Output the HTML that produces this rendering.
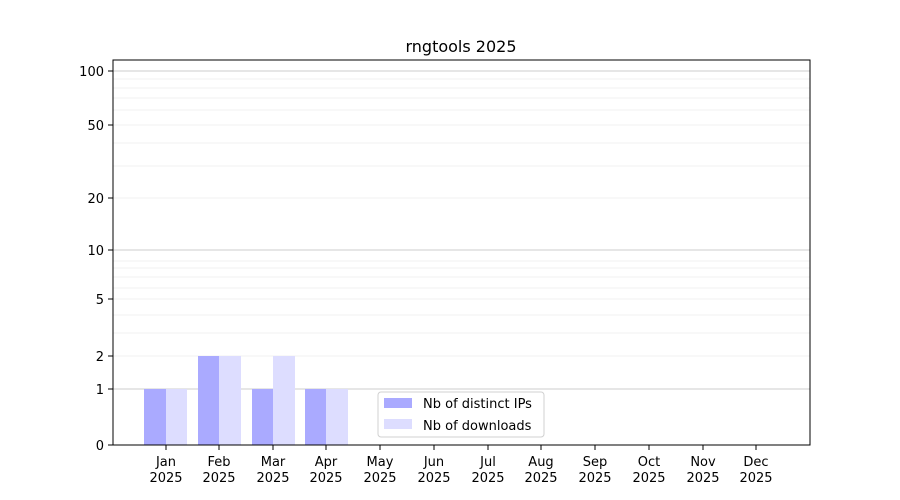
<!DOCTYPE html>
<html><head><meta charset="utf-8"><style>body{margin:0;background:#fff}svg{display:block;font-family:"DejaVu Sans","Liberation Sans",sans-serif}</style></head>
<body>
<svg width="900" height="500" xmlns="http://www.w3.org/2000/svg">
<rect width="900" height="500" fill="#fff"/>
<g stroke="#ebebeb" stroke-width="0.8">
<line x1="113" x2="810" y1="333" y2="333"/><line x1="113" x2="810" y1="315" y2="315"/>
<line x1="113" x2="810" y1="288" y2="288"/><line x1="113" x2="810" y1="277" y2="277"/>
<line x1="113" x2="810" y1="268" y2="268"/><line x1="113" x2="810" y1="261" y2="261"/>
<line x1="113" x2="810" y1="356" y2="356"/><line x1="113" x2="810" y1="299" y2="299"/>
<line x1="113" x2="810" y1="198" y2="198"/><line x1="113" x2="810" y1="166" y2="166"/>
<line x1="113" x2="810" y1="143" y2="143"/><line x1="113" x2="810" y1="125" y2="125"/>
<line x1="113" x2="810" y1="110" y2="110"/><line x1="113" x2="810" y1="98" y2="98"/>
<line x1="113" x2="810" y1="88" y2="88"/><line x1="113" x2="810" y1="79" y2="79"/>
</g>
<g stroke="#cccccc" stroke-width="1">
<line x1="113" x2="810" y1="389" y2="389"/><line x1="113" x2="810" y1="250" y2="250"/><line x1="113" x2="810" y1="71" y2="71"/>
</g>
<g fill="#aaaaff">
<rect x="144" y="389" width="22" height="56"/><rect x="198" y="356" width="21" height="89"/>
<rect x="252" y="389" width="21" height="56"/><rect x="305" y="389" width="21" height="56"/>
</g>
<g fill="#ddddff">
<rect x="166" y="389" width="21" height="56"/><rect x="219" y="356" width="22" height="89"/>
<rect x="273" y="356" width="22" height="89"/><rect x="326" y="389" width="22" height="56"/>
</g>
<rect x="113" y="60" width="697" height="385" fill="none" stroke="#000" stroke-width="1"/>
<g stroke="#000"><line x1="108" x2="113" y1="445" y2="445"/><line x1="108" x2="113" y1="389" y2="389"/><line x1="108" x2="113" y1="356" y2="356"/><line x1="108" x2="113" y1="299" y2="299"/><line x1="108" x2="113" y1="250" y2="250"/><line x1="108" x2="113" y1="198" y2="198"/><line x1="108" x2="113" y1="125" y2="125"/><line x1="108" x2="113" y1="71" y2="71"/></g>
<g font-size="13" text-anchor="end" fill="#000">
<text x="104" y="450">0</text><text x="104" y="394">1</text><text x="104" y="361">2</text><text x="104" y="304">5</text><text x="104" y="255">10</text><text x="104" y="203">20</text><text x="104" y="130">50</text><text x="104" y="76">100</text>
</g>
<g font-size="13" text-anchor="middle" fill="#000">
<text x="166" y="466">Jan</text><text x="166" y="482">2025</text>
<text x="219" y="466">Feb</text><text x="219" y="482">2025</text>
<text x="273" y="466">Mar</text><text x="273" y="482">2025</text>
<text x="326" y="466">Apr</text><text x="326" y="482">2025</text>
<text x="380" y="466">May</text><text x="380" y="482">2025</text>
<text x="434" y="466">Jun</text><text x="434" y="482">2025</text>
<text x="488" y="466">Jul</text><text x="488" y="482">2025</text>
<text x="541" y="466">Aug</text><text x="541" y="482">2025</text>
<text x="595" y="466">Sep</text><text x="595" y="482">2025</text>
<text x="649" y="466">Oct</text><text x="649" y="482">2025</text>
<text x="703" y="466">Nov</text><text x="703" y="482">2025</text>
<text x="756" y="466">Dec</text><text x="756" y="482">2025</text>
</g>
<g stroke="#000"><line x1="166" x2="166" y1="445" y2="450"/><line x1="219" x2="219" y1="445" y2="450"/><line x1="273" x2="273" y1="445" y2="450"/><line x1="326" x2="326" y1="445" y2="450"/><line x1="380" x2="380" y1="445" y2="450"/><line x1="434" x2="434" y1="445" y2="450"/><line x1="488" x2="488" y1="445" y2="450"/><line x1="541" x2="541" y1="445" y2="450"/><line x1="595" x2="595" y1="445" y2="450"/><line x1="649" x2="649" y1="445" y2="450"/><line x1="703" x2="703" y1="445" y2="450"/><line x1="756" x2="756" y1="445" y2="450"/></g>
<text x="461" y="52" font-size="16" text-anchor="middle">rngtools 2025</text>
<rect x="378" y="392" width="166" height="45" rx="3" fill="#fff" fill-opacity="0.8" stroke="#d0d0d0"/>
<rect x="384" y="398" width="28" height="10" fill="#aaaaff"/>
<rect x="384" y="419" width="28" height="10" fill="#ddddff"/>
<text x="423" y="408" font-size="13">Nb of distinct IPs</text>
<text x="423" y="430" font-size="13">Nb of downloads</text>
</svg>
</body></html>
